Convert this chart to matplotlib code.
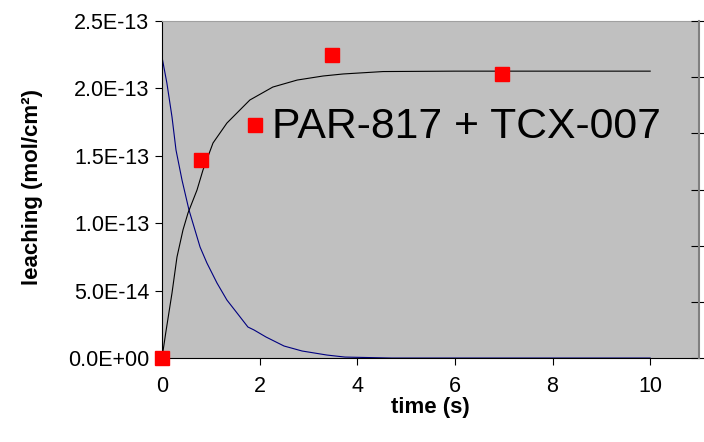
import matplotlib.pyplot as plt
import numpy as np

plt.rcParams['font.family'] = ['Liberation Sans', 'DejaVu Sans']

# measured points (red squares)
t_meas = [0.0, 0.80, 1.91, 3.48, 6.97]
leach_meas = [0.0, 1.47e-13, 1.73e-13, 2.245e-13, 2.11e-13]

# model curve, rising (black)
t_fit = [0.0, 0.076, 0.205, 0.307, 0.43, 0.533, 0.717, 0.84, 1.045, 1.33,
         1.80, 2.27, 2.77, 3.30, 3.71, 4.53, 6.0, 8.0, 10.0]
leach_fit = [0.0, 0.185e-13, 0.482e-13, 0.749e-13, 0.950e-13, 1.076e-13,
             1.246e-13, 1.395e-13, 1.595e-13, 1.743e-13, 1.914e-13, 2.010e-13,
             2.062e-13, 2.092e-13, 2.107e-13, 2.125e-13, 2.128e-13, 2.128e-13,
             2.128e-13]

# model curve, decaying (blue)
t_dec = [0.0, 0.10, 0.205, 0.287, 0.41, 0.553, 0.78, 0.92, 1.127, 1.33,
         1.537, 1.76, 1.885, 2.13, 2.5, 2.87, 3.38, 3.75, 4.7, 10.0]
leach_dec = [2.233e-13, 2.040e-13, 1.788e-13, 1.543e-13, 1.320e-13,
             1.098e-13, 0.823e-13, 0.705e-13, 0.556e-13, 0.430e-13, 0.334e-13,
             0.230e-13, 0.208e-13, 0.156e-13, 0.089e-13, 0.052e-13,
             0.022e-13, 0.007e-13, 0.0, 0.0]

yticks = [0, 5e-14, 1e-13, 1.5e-13, 2e-13, 2.5e-13]
ytick_labels = ['0.0E+00', '5.0E-14', '1.0E-13', '1.5E-13', '2.0E-13', '2.5E-13']

fig = plt.figure(figsize=(7.04, 4.42), dpi=100)
ax = fig.add_axes([0.2301, 0.190, 0.7628, 0.7625])
ax.set_facecolor('#C0C0C0')

ax.plot(t_dec, leach_dec, color='#000080', linewidth=0.8, zorder=2)
ax.plot(t_fit, leach_fit, color='black', linewidth=0.8, zorder=3)
ax.plot(t_meas, leach_meas, 's', color='#FF0000', markersize=10,
        clip_on=False, zorder=4)

ax.text(2.25, 1.714e-13, 'PAR-817 + TCX-007', fontsize=30.8,
        ha='left', va='center')

ax.set_xlim(0, 11)
ax.set_ylim(0, 2.5e-13)
ax.set_xticks([0, 2, 4, 6, 8, 10])
ax.set_yticks(yticks)
ax.set_yticklabels(ytick_labels)
ax.tick_params(axis='both', labelsize=15.5, direction='out', length=5,
               width=0.8, colors='black')
ax.tick_params(axis='x', pad=8)
ax.tick_params(axis='y', pad=4)

ax.set_xlabel('time (s)', fontsize=16, fontweight='bold', labelpad=0)
ax.set_ylabel('leaching (mol/cm²)', fontsize=16, fontweight='bold')
ax.yaxis.set_label_coords(-0.222, 0.507)

ax.spines['left'].set_color('black')
ax.spines['bottom'].set_color('black')
ax.spines['top'].set_color('#A0A0A0')
ax.spines['right'].set_visible(False)

# secondary axis on the right, ticks only
ax2 = ax.twinx()
ax2.set_ylim(0, 6)
ax2.set_yticks(range(7))
ax2.set_yticklabels([])
ax2.tick_params(axis='y', direction='inout', length=12, width=0.8)
for s in ['left', 'top', 'bottom']:
    ax2.spines[s].set_visible(False)
ax2.spines['right'].set_color('#808080')
ax2.spines['right'].set_linewidth(1.5)

fig.savefig('out.png', dpi=100)
